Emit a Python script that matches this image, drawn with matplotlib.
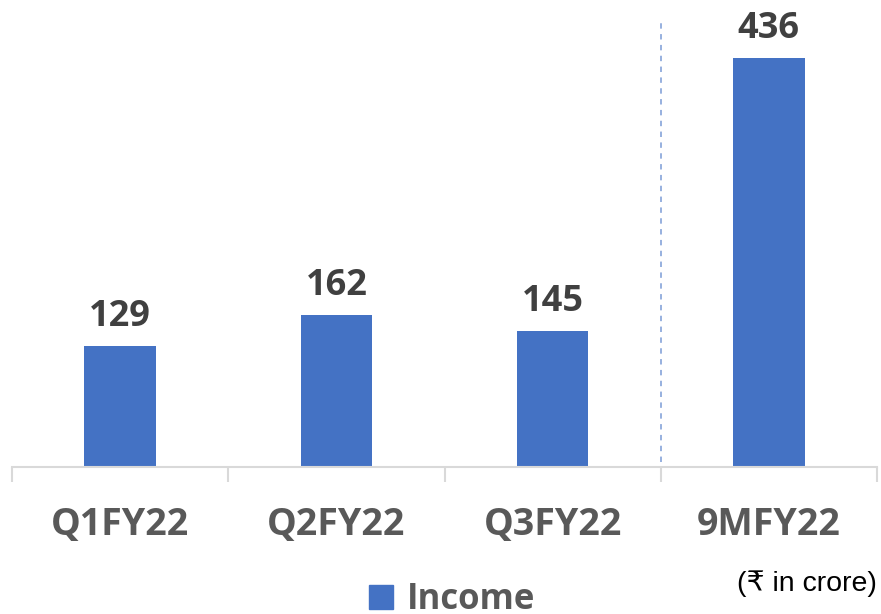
import numpy as np
import matplotlib.pyplot as plt
from matplotlib.patches import Patch

# income per period, Rs crore
periods = ['Q1FY22', 'Q2FY22', 'Q3FY22', '9MFY22']
income = [129, 162, 145, 436]

bar_color = '#4472c4'
grid_grey = '#d9d9d9'

fig = plt.figure(figsize=(8.81, 6.14), dpi=100)
ax = fig.add_axes([12/881, 1 - 467/614, 865/881, 467/614])

x = np.arange(len(periods))
bars = ax.bar(x, income, width=0.33, color=bar_color, zorder=2)

ax.set_xlim(-0.5, len(periods) - 0.5)
ax.set_ylim(0, 436 * 467 / 409)

# value labels above bars
for xi, v in zip(x, income):
    ax.annotate(str(v), (xi, v), xytext=(0, 8), textcoords='offset points',
                ha='center', va='bottom', fontsize=26, fontweight='bold',
                family='Open Sans', color='#404040')

# separator between quarters and nine-month total
ax.axvline(2.5, ymin=0.01, ymax=(467 - 20) / 467, color='#8faadc',
           linestyle=(0, (3, 3)), linewidth=1.3, zorder=1)

for s in ['top', 'right', 'left']:
    ax.spines[s].set_visible(False)
ax.spines['bottom'].set_color(grid_grey)
ax.spines['bottom'].set_linewidth(1.5)
ax.set_yticks([])

# boundary ticks between categories, labels centred on bars
ax.set_xticks(np.arange(-0.5, len(periods), 1.0))
ax.set_xticklabels([])
ax.tick_params(axis='x', which='major', length=11, width=1.5, color=grid_grey)
ax.set_xticks(x, minor=True)
ax.set_xticklabels(periods, minor=True, fontsize=27, fontweight='bold',
                   family='Open Sans', color='#595959')
ax.tick_params(axis='x', which='minor', length=0, pad=28)

fig.legend(handles=[Patch(color=bar_color, label='Income')],
           loc='center', bbox_to_anchor=(452/881, 1 - 600/614), frameon=False,
           handlelength=0.7, handleheight=0.7, handletextpad=0.4,
           prop={'family': 'Open Sans', 'weight': 'bold', 'size': 25},
           labelcolor='#595959')

fig.text(877/881, 1 - 584/614, '(₹ in crore)', ha='right', va='center',
         fontsize=20.5, family=['Liberation Sans', 'DejaVu Sans'], color='black')

fig.savefig('out.png', dpi=100)
